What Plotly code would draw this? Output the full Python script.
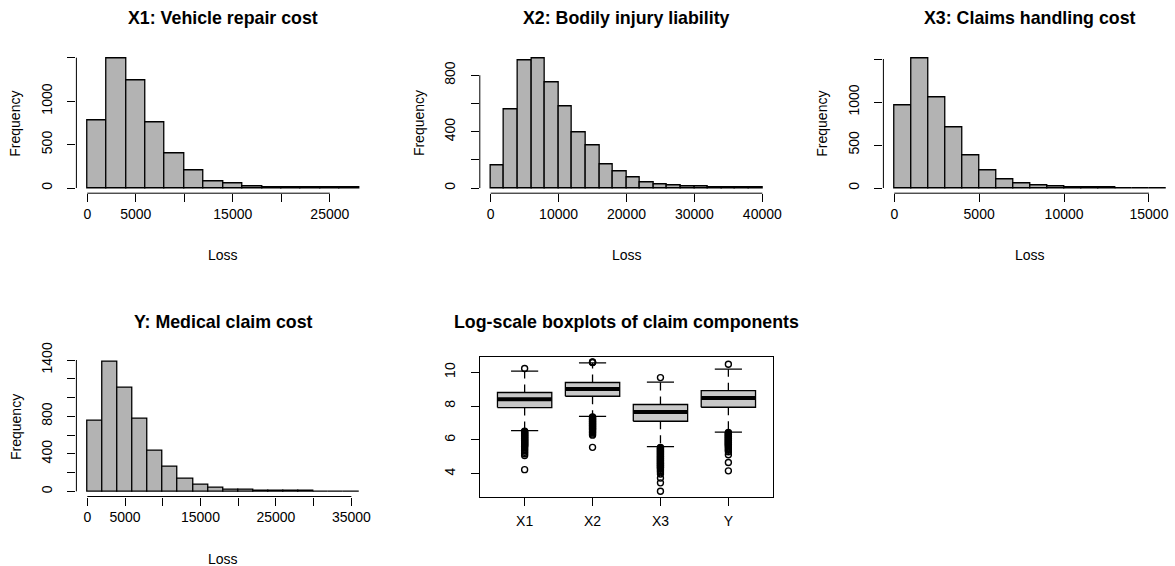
import plotly.graph_objects as go

W, H = 1175, 566

# ---------------- data ----------------
x1_counts = [780, 1490, 1235, 755, 403, 207, 77, 57, 22, 8, 5, 3, 2, 2]
x1_binwidth = 2000
x2_counts = [157, 560, 904, 918, 750, 579, 394, 301, 169, 119, 74, 43, 28, 19, 10, 8, 4, 3, 2, 2]
x2_binwidth = 2000
x3_counts = [960, 1505, 1057, 700, 385, 202, 105, 54, 31, 15, 8, 4, 2, 1, 1, 1]
x3_binwidth = 1000
y_counts = [752, 1380, 1104, 777, 431, 264, 139, 75, 43, 21, 14, 8, 5, 3, 2, 1, 1, 1]
y_binwidth = 2000

hist_titles = ["X1: Vehicle repair cost", "X2: Bodily injury liability",
               "X3: Claims handling cost", "Y: Medical claim cost"]

x1_xticks = [0, 5000, 10000, 15000, 20000, 25000]
x1_xlabels = ["0", "5000", "", "15000", "", "25000"]
x1_yticks = [0, 500, 1000, 1500]
x1_ylabels = ["0", "500", "1000", ""]

x2_xticks = [0, 10000, 20000, 30000, 40000]
x2_xlabels = ["0", "10000", "20000", "30000", "40000"]
x2_yticks = [0, 200, 400, 600, 800]
x2_ylabels = ["0", "", "400", "", "800"]

x3_xticks = [0, 5000, 10000, 15000]
x3_xlabels = ["0", "5000", "10000", "15000"]
x3_yticks = [0, 500, 1000, 1500]
x3_ylabels = ["0", "500", "1000", ""]

y_xticks = [0, 5000, 10000, 15000, 20000, 25000, 30000, 35000]
y_xlabels = ["0", "5000", "", "15000", "", "25000", "", "35000"]
y_yticks = [0, 200, 400, 600, 800, 1000, 1200, 1400]
y_ylabels = ["0", "", "400", "", "800", "", "", "1400"]

# log-scale boxplot summary
box_labels = ["X1", "X2", "X3", "Y"]
box_q1 = [7.91, 8.58, 7.10, 7.93]
box_median = [8.40, 9.01, 7.65, 8.48]
box_q3 = [8.80, 9.39, 8.09, 8.91]
box_lower = [6.55, 7.39, 5.60, 6.46]
box_upper = [10.06, 10.55, 9.41, 10.18]

x1_outliers = [10.22,
               6.52, 6.48, 6.44, 6.40, 6.36, 6.32, 6.28, 6.24, 6.20, 6.16, 6.12, 6.08,
               6.04, 6.00, 5.96, 5.92, 5.88, 5.84, 5.80, 5.76, 5.72, 5.68, 5.64, 5.60,
               5.52, 5.44, 5.36, 5.27, 5.18, 5.08, 4.24]
x2_outliers = [10.57, 10.59, 10.61,
               7.36, 7.32, 7.28, 7.24, 7.20, 7.16, 7.12, 7.08, 7.04, 7.00, 6.96, 6.92,
               6.88, 6.84, 6.80, 6.76, 6.72, 6.68, 6.64, 6.60, 6.55, 6.50, 6.45, 6.40,
               6.34, 6.28, 5.56]
x3_outliers = [9.68,
               5.56, 5.52, 5.48, 5.44, 5.40, 5.36, 5.32, 5.28, 5.24, 5.20, 5.16, 5.12,
               5.08, 5.04, 5.00, 4.96, 4.92, 4.88, 4.84, 4.80, 4.76, 4.72, 4.68, 4.64,
               4.60, 4.56, 4.52, 4.48, 4.44, 4.40, 4.36, 4.32, 4.26, 4.18, 4.10,
               3.98, 3.74, 3.46, 2.96]
y_outliers = [10.47,
              6.44, 6.40, 6.36, 6.32, 6.28, 6.24, 6.20, 6.16, 6.12, 6.08, 6.04, 6.00,
              5.96, 5.92, 5.88, 5.84, 5.80, 5.76, 5.72, 5.68, 5.64, 5.58, 5.52, 5.45,
              5.38, 5.30, 5.12, 4.66, 4.17]
box_outliers = [x1_outliers, x2_outliers, x3_outliers, y_outliers]

# ---------------- style / layout geometry ----------------
FONT = "Liberation Sans, Arial, Helvetica, sans-serif"
HIST_FILL = "#B3B3B3"
BOX_FILL = "#C8C8C8"
TICK_SIZE = 14
TITLE_SIZE = 17.8
col_left = [76.4, 479.8, 883.4]
panel_w = 293.4
row_top = [53.4, 356.7]
panel_h = 139.8

fig = go.Figure()
shapes = []
annotations = []


def dom_x(l, r):
    return [max(0, l / W), min(1, r / W)]


def dom_y(t, b):
    return [1 - b / H, 1 - t / H]


def axis_common():
    return dict(showgrid=False, zeroline=False, ticks="outside", ticklen=8,
                tickwidth=1, tickcolor="black", automargin=False,
                tickfont=dict(family=FONT, size=TICK_SIZE, color="black"),
                showline=False, fixedrange=True)


hist_specs = [
    (x1_counts, x1_binwidth, x1_xticks, x1_xlabels, x1_yticks, x1_ylabels, 0, 0),
    (x2_counts, x2_binwidth, x2_xticks, x2_xlabels, x2_yticks, x2_ylabels, 0, 1),
    (x3_counts, x3_binwidth, x3_xticks, x3_xlabels, x3_yticks, x3_ylabels, 0, 2),
    (y_counts, y_binwidth, y_xticks, y_xlabels, y_yticks, y_ylabels, 1, 0),
]

for k, (counts, bw, xt, xl, yt, yl, r, c) in enumerate(hist_specs):
    idx = k + 1
    xa = "x" if idx == 1 else f"x{idx}"
    ya = "y" if idx == 1 else f"y{idx}"
    centers = [bw * (i + 0.5) for i in range(len(counts))]
    fig.add_trace(go.Bar(x=centers, y=counts, width=bw, xaxis=xa, yaxis=ya,
                         marker=dict(color=HIST_FILL, line=dict(color="black", width=1.3)),
                         showlegend=False, hoverinfo="x+y"))
    xmax = bw * len(counts)
    left = col_left[c]
    right = left + panel_w
    lo = -0.04 * xmax
    hi = xmax * 1.04
    if right > W:
        hi = lo + (hi - lo) * (W - left) / panel_w
        right = W
    ymax = max(counts)
    top = row_top[r]
    bot = top + panel_h
    xaxis = axis_common()
    xaxis.update(domain=dom_x(left, right), range=[lo, hi], anchor=ya,
                 tickmode="array", tickvals=xt, ticktext=xl)
    yaxis = axis_common()
    yaxis.update(domain=dom_y(top, bot), range=[-0.04 * ymax, 1.04 * ymax], anchor=xa,
                 tickmode="array", tickvals=yt, ticktext=yl, tickangle=-90,
                 ticklabelstandoff=10)
    fig.update_layout(**{("xaxis" if idx == 1 else f"xaxis{idx}"): xaxis,
                         ("yaxis" if idx == 1 else f"yaxis{idx}"): yaxis})
    # R-style axis lines spanning tick range
    shapes.append(dict(type="line", xref=xa, yref=f"{ya} domain", x0=xt[0], x1=xt[-1],
                       y0=0, y1=0, line=dict(color="black", width=1)))
    shapes.append(dict(type="line", xref=f"{xa} domain", yref=ya, x0=0, x1=0,
                       y0=yt[0], y1=yt[-1], line=dict(color="black", width=1)))
    cx = (left + left + panel_w) / 2
    annotations.append(dict(text=f"<b>{hist_titles[k]}</b>", x=cx / W, y=1 - (top - 35) / H,
                            xref="paper", yref="paper", showarrow=False, xanchor="center",
                            yanchor="middle", font=dict(family=FONT, size=TITLE_SIZE, color="black")))
    annotations.append(dict(text="Loss", x=cx / W, y=1 - (bot + 62) / H,
                            xref="paper", yref="paper", showarrow=False, xanchor="center",
                            yanchor="middle", font=dict(family=FONT, size=TICK_SIZE, color="black")))
    annotations.append(dict(text="Frequency", x=(left - 61) / W, y=1 - (top + panel_h / 2) / H,
                            xref="paper", yref="paper", showarrow=False, xanchor="center",
                            yanchor="middle", textangle=-90,
                            font=dict(family=FONT, size=TICK_SIZE, color="black")))

# ---------------- boxplot panel ----------------
bx, by = "x5", "y5"
half = 0.4
cap = 0.2
for i, lab in enumerate(box_labels):
    p = i + 1
    # box
    fig.add_trace(go.Scatter(x=[p - half, p + half, p + half, p - half, p - half],
                             y=[box_q1[i], box_q1[i], box_q3[i], box_q3[i], box_q1[i]],
                             mode="lines", fill="toself", fillcolor=BOX_FILL,
                             line=dict(color="black", width=1.3), xaxis=bx, yaxis=by,
                             showlegend=False, hoverinfo="skip"))
    # median
    fig.add_trace(go.Scatter(x=[p - half, p + half], y=[box_median[i], box_median[i]],
                             mode="lines", line=dict(color="black", width=4),
                             xaxis=bx, yaxis=by, showlegend=False, hoverinfo="skip"))
    # whiskers (dashed)
    for a, b in [(box_q3[i], box_upper[i]), (box_q1[i], box_lower[i])]:
        fig.add_trace(go.Scatter(x=[p, p], y=[a, b], mode="lines",
                                 line=dict(color="black", width=1.3, dash="8px,6px"),
                                 xaxis=bx, yaxis=by, showlegend=False, hoverinfo="skip"))
    # caps
    for v in [box_upper[i], box_lower[i]]:
        fig.add_trace(go.Scatter(x=[p - cap, p + cap], y=[v, v], mode="lines",
                                 line=dict(color="black", width=1.3),
                                 xaxis=bx, yaxis=by, showlegend=False, hoverinfo="skip"))
    # outliers
    fig.add_trace(go.Scatter(x=[p] * len(box_outliers[i]), y=box_outliers[i], mode="markers",
                             marker=dict(symbol="circle-open", size=6, color="black",
                                         line=dict(width=1.4, color="black")),
                             xaxis=bx, yaxis=by, showlegend=False, name=lab))

all_vals = [v for lst in box_outliers for v in lst]
vmin, vmax = min(all_vals), max(all_vals)
span = vmax - vmin
bleft = col_left[1]
btop = row_top[1]
xaxis5 = axis_common()
xaxis5.update(domain=dom_x(bleft, bleft + panel_w), range=[0.5 - 0.16, 4.5 + 0.16], anchor=by,
              tickmode="array", tickvals=[1, 2, 3, 4], ticktext=box_labels,
              showline=True, mirror=True, linecolor="black", linewidth=1.3,
              ticklabelstandoff=4)
yaxis5 = axis_common()
yaxis5.update(domain=dom_y(btop, btop + panel_h), range=[vmin - 0.04 * span, vmax + 0.04 * span],
              anchor=bx, tickmode="array", tickvals=[4, 6, 8, 10], ticktext=["4", "6", "8", "10"],
              tickangle=-90, showline=True, mirror=True, linecolor="black", linewidth=1.3,
              ticklabelstandoff=10)
fig.update_layout(xaxis5=xaxis5, yaxis5=yaxis5)
annotations.append(dict(text="<b>Log-scale boxplots of claim components</b>",
                        x=(bleft + panel_w / 2) / W, y=1 - (btop - 35) / H,
                        xref="paper", yref="paper", showarrow=False, xanchor="center",
                        yanchor="middle", font=dict(family=FONT, size=TITLE_SIZE, color="black")))

fig.update_layout(width=W, height=H, margin=dict(l=0, r=0, t=0, b=0, autoexpand=False),
                  paper_bgcolor="white", plot_bgcolor="white",
                  bargap=0, shapes=shapes, annotations=annotations,
                  font=dict(family=FONT, size=TICK_SIZE, color="black"))

fig.write_html("out.html")
